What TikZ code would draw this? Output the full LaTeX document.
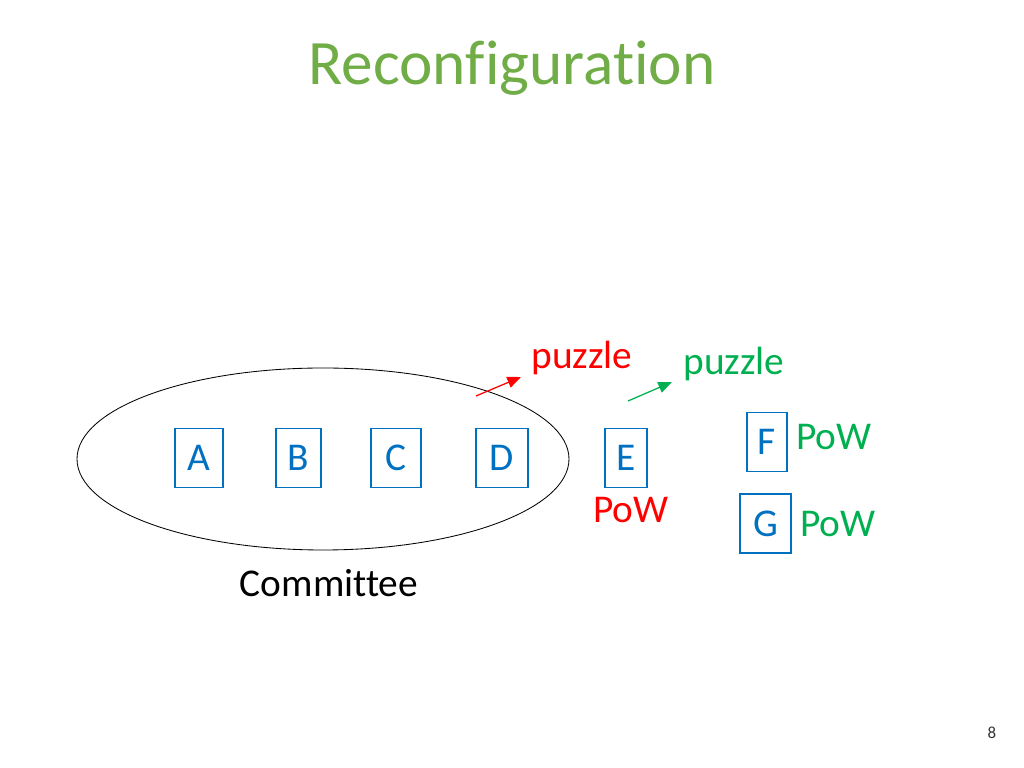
\documentclass[tikz,border=0pt]{standalone}
\usepackage{fontspec}
\setmainfont{Carlito}[Ligatures=NoCommon]
\usepackage{xcolor}
\usepackage{tikz}
\usetikzlibrary{calc, positioning, arrows.meta, shapes.geometric}
\definecolor{nodeblue}{HTML}{0070C0}
\definecolor{titlegreen}{HTML}{70AD47}
\definecolor{powgreen}{HTML}{00B050}
\definecolor{powred}{HTML}{FF0000}
\tikzset{
    member/.style={rectangle, draw=nodeblue, line width=1.4pt, text=nodeblue, minimum width=1.2cm, minimum height=1.475cm, inner sep=0pt, font=\fontsize{28}{32}\selectfont},
    committee/.style={ellipse, draw=black, line width=0.6pt, minimum width=12.3cm, minimum height=4.55cm},
    tag/.style={font=\fontsize{28}{32}\selectfont, inner sep=0pt},
    msg/.style={-{Triangle[length=0.34cm, width=0.28cm]}, line width=0.9pt}
}

\begin{document}
\begin{tikzpicture}
    \useasboundingbox (0,0) rectangle (25.6,19.2);
    % Title
    \node[font=\fontsize{45}{52}\selectfont, text=titlegreen] (title) at (12.8,17.5) {Reconfiguration};

    % Committee
    \node[committee] (comm) at (8.075,7.725) {};
    \node[member] (A) at (4.975,7.75) {A};
    \node[member, minimum width=1.125cm] (B) at (7.4625,7.75) {B};
    \node[member, minimum width=1.25cm] (C) at (9.9,7.75) {C};
    \node[member, minimum width=1.3cm] (D) at (12.55,7.75) {D};
    \node[tag] (commlabel) at (8.225,4.625) {Committee};

    % Newcomers
    \node[member, minimum width=1.05cm] (E) at (15.65,7.75) {E};
    \node[member, minimum width=1.0cm] (F) at (19.175,8.15) {F};
    \node[member, minimum width=1.275cm] (G) at (19.14,6.1125) {G};
    \node[tag, text=powred] (powE) at (15.775,6.45) {PoW};
    \node[tag, text=powgreen] (powF) at (20.85,8.275) {PoW};
    \node[tag, text=powgreen] (powG) at (20.95,6.1) {PoW};

    % Puzzles
    \node[tag, text=powred] (puzzleold) at (14.55,10.25) {puzzle};
    \node[tag, text=powgreen] (puzzlenew) at (18.35,10.1) {puzzle};
    \coordinate (redstart) at (11.9,9.3);
    \coordinate (redend) at (13.025,9.775);
    \coordinate (greenstart) at (15.7,9.175);
    \coordinate (greenend) at (16.8,9.65);
    \draw[msg, powred] (redstart) -- (redend);
    \draw[msg, powgreen] (greenstart) -- (greenend);

    % Page number
    \node[font=\fontsize{12}{14}\selectfont, text=black!80] (page) at (24.8,0.875) {8};
\end{tikzpicture}
\end{document}
